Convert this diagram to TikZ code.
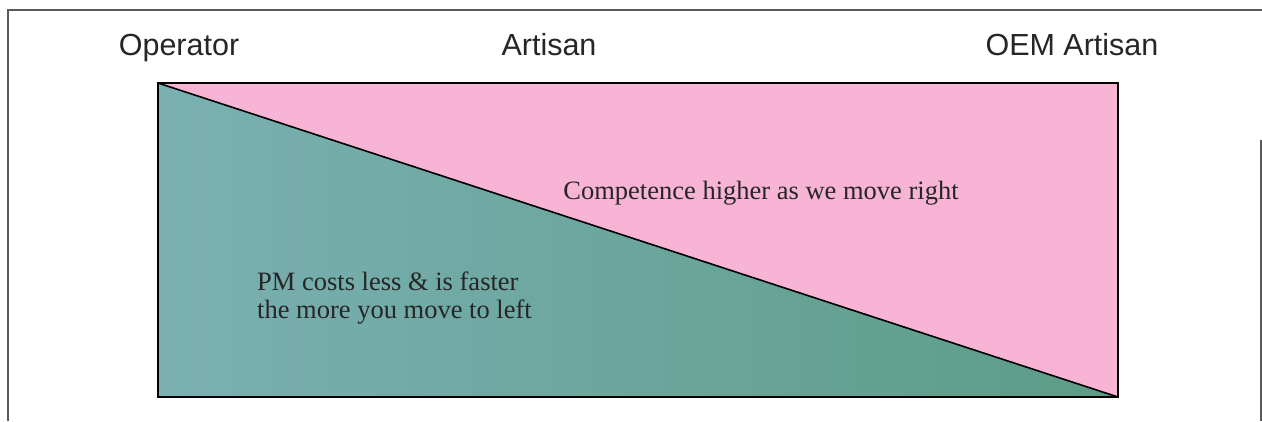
\documentclass[tikz,border=0pt]{standalone}
\usepackage{fontspec}
\setmainfont{Liberation Serif}
\newfontfamily\arialfont{Liberation Sans}
\definecolor{framegray}{HTML}{5A5A5A}
\definecolor{tealA}{HTML}{7AB0B2}
\definecolor{tealB}{HTML}{5C9C86}
\definecolor{pinkfill}{HTML}{F8B4D4}
\tikzset{
  headlabel/.style={font=\arialfont\fontsize{30.5}{36}\selectfont, anchor=base, inner sep=0pt, text=black!85},
  bodylabel/.style={font=\fontsize{26.5}{28}\selectfont, inner sep=0pt, text=black!85},
  frameline/.style={draw=framegray, line width=1.3pt},
  boxline/.style={draw=black, line width=2pt}
}
\begin{document}
\begin{tikzpicture}[x=1pt,y=-1pt]
\useasboundingbox (0,0) rectangle (1262,421);
\fill[white] (0,0) rectangle (1262,421);
% outer frame
\draw[frameline] (8,421) -- (8,10) -- (1262,10);
\draw[frameline] (1261,140) -- (1261,421);
% box corners
\coordinate (tl) at (158,83);
\coordinate (tr) at (1118,83);
\coordinate (br) at (1118,397);
\coordinate (bl) at (158,397);
% fills
\fill[pinkfill] (tl) -- (tr) -- (br) -- cycle;
\shade[left color=tealA, right color=tealB] (tl) -- (br) -- (bl) -- cycle;
\draw[black, line width=1.6pt] (tl) -- (br);
\draw[boxline] (tl) rectangle (br);
% labels
\node[headlabel] (op) at (179,55) {Operator};
\node[headlabel] (ar) at (549,55) {Artisan};
\node[headlabel] (oem) at (1072,55) {OEM Artisan};
\node[bodylabel, anchor=base] (comp) at (761,199) {Competence higher as we move right};
\node[bodylabel, anchor=base west] (pm1) at (257,290) {PM costs less \& is faster};
\node[bodylabel, anchor=base west] (pm2) at (257,318) {the more you move to left};
\end{tikzpicture}
\end{document}
